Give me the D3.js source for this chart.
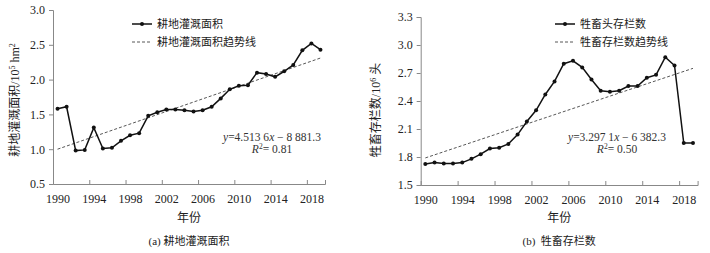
<!DOCTYPE html>
<html><head><meta charset="utf-8">
<script src="https://cdn.jsdelivr.net/npm/d3@7"></script>
<style>
body{margin:0;background:#fff;}
</style></head>
<body><svg id="c" width="710" height="253"></svg>
<script>
const years = d3.range(1990, 2020);
const irrigArea = [1.58,1.61,0.98,0.99,1.31,1.01,1.02,1.12,1.20,1.23,1.48,1.53,1.57,1.57,1.56,1.54,1.56,1.61,1.73,1.86,1.91,1.92,2.10,2.08,2.04,2.12,2.21,2.42,2.52,2.43];
const livestock = [1.725,1.74,1.73,1.73,1.74,1.78,1.83,1.89,1.90,1.94,2.04,2.18,2.30,2.47,2.61,2.80,2.83,2.76,2.63,2.51,2.50,2.51,2.56,2.56,2.65,2.68,2.87,2.78,1.95,1.95];
const irrigTrend = [1.00, 2.31];   // trend line values at 1990 and 2019
const stockTrend = [1.79, 2.75];
const xTickLabels = [1990,1994,1998,2002,2006,2010,2014,2018];
const yTicksA = [0.5,1.0,1.5,2.0,2.5,3.0];
const yTicksB = [1.5,1.8,2.1,2.4,2.7,3.0,3.3];

const FONT = "'Liberation Serif','Times New Roman','Noto Sans CJK SC',serif";
const svg = d3.select("#c");

function panel(o){
  const g = svg.append("g");
  const x = d3.scaleLinear().domain([1989.5, 2019.5]).range([o.x0, o.x1]);
  const y = d3.scaleLinear().domain(o.ydom).range([o.y1, o.y0]);
  const ya = g.append("g").attr("transform",`translate(${o.x0},0)`)
    .call(d3.axisLeft(y).tickValues(o.yticks).tickFormat(d3.format(".1f")).tickSize(4).tickPadding(4));
  ya.select(".domain").attr("stroke","#888");
  ya.selectAll(".tick line").attr("stroke","#888");
  ya.selectAll("text").attr("font-size",12).attr("fill","#222");
  const xb = g.append("g").attr("transform",`translate(0,${o.y1})`)
    .call(d3.axisBottom(x).tickValues(d3.range(1993.5, 2020, 4)).tickSize(-4).tickFormat(""));
  xb.select(".domain").attr("stroke","#888");
  xb.selectAll(".tick line").attr("stroke","#888");
  const xl = g.append("g").attr("transform",`translate(0,${o.y1})`)
    .call(d3.axisBottom(x).tickValues(xTickLabels).tickSize(0).tickPadding(10).tickFormat(d3.format("d")));
  xl.select(".domain").remove();
  xl.selectAll("text").attr("font-size",12).attr("fill","#222");
  g.append("line").attr("x1",x(1990)).attr("x2",x(2019))
    .attr("y1",y(o.trend[0])).attr("y2",y(o.trend[1]))
    .attr("stroke","#444").attr("stroke-width",0.9).attr("stroke-dasharray","3,2");
  const line = d3.line().x((d,i)=>x(years[i])).y(d=>y(d));
  g.append("path").datum(o.data).attr("d",line).attr("fill","none").attr("stroke","#111").attr("stroke-width",1.5);
  g.selectAll("circle.p").data(o.data).enter().append("circle")
    .attr("cx",(d,i)=>x(years[i])).attr("cy",d=>y(d)).attr("r",2).attr("fill","#111");
  const lx = o.legX, ly = o.legY;
  g.append("line").attr("x1",lx).attr("x2",lx+20).attr("y1",ly).attr("y2",ly).attr("stroke","#111").attr("stroke-width",1.5);
  g.append("circle").attr("cx",lx+10).attr("cy",ly).attr("r",2).attr("fill","#111");
  g.append("text").attr("x",lx+25).attr("y",ly+4).attr("font-size",11).text(o.leg1);
  g.append("line").attr("x1",lx).attr("x2",lx+20).attr("y1",ly+18).attr("y2",ly+18)
    .attr("stroke","#444").attr("stroke-width",0.9).attr("stroke-dasharray","3,2");
  g.append("text").attr("x",lx+25).attr("y",ly+22).attr("font-size",11).text(o.leg2);
  const eq = g.append("text").attr("x",o.eqX).attr("y",141).attr("text-anchor","middle").attr("font-size",11.5).attr("fill","#333");
  eq.append("tspan").attr("font-style","italic").text("y");
  eq.append("tspan").text("=" + o.eq1);
  eq.append("tspan").attr("font-style","italic").text("x");
  eq.append("tspan").text(" − " + o.eq2);
  const r2 = g.append("text").attr("x",o.eqX).attr("y",153).attr("text-anchor","middle").attr("font-size",11.5).attr("fill","#333");
  r2.append("tspan").attr("font-style","italic").text("R");
  r2.append("tspan").attr("font-size",7.5).attr("dy",-4).text("2");
  r2.append("tspan").attr("dy",4).text("= " + o.r2);
  const cx = (o.x0+o.x1)/2;
  g.append("text").attr("x",cx).attr("y",222).attr("text-anchor","middle").attr("font-size",12).text("年份");
  g.append("text").attr("x",cx).attr("y",245).attr("text-anchor","middle").attr("font-size",11).attr("xml:space","preserve").text(o.caption);
  const yt = g.append("text").attr("transform",`translate(${o.ytX},${o.ytY}) rotate(-90)`).attr("text-anchor","middle").attr("font-size",12);
  yt.append("tspan").text(o.ytitle);
  yt.append("tspan").text(o.yunit);
  yt.append("tspan").attr("font-size",8).attr("dy",-4).text(o.ysup);
  yt.append("tspan").attr("dy",4).text(o.yunit2);
  if (o.ysup2){ yt.append("tspan").attr("font-size",8).attr("dy",-4).text(o.ysup2); }
}

panel({x0:53,x1:325,y0:10,y1:184,ydom:[0.5,3.0],yticks:yTicksA,data:irrigArea,trend:irrigTrend,
  legX:132,legY:24,leg1:"耕地灌溉面积",leg2:"耕地灌溉面积趋势线",eqX:272,eq1:"4.513 6",eq2:"8 881.3",r2:"0.81",
  caption:"(a) 耕地灌溉面积",ytX:19,ytY:100,ytitle:"耕地灌溉面积",yunit:"/10",ysup:"5",yunit2:" hm",ysup2:"2"});
panel({x0:420.7,x1:697.6,y0:17,y1:185,ydom:[1.5,3.3],yticks:yTicksB,data:livestock,trend:stockTrend,
  legX:555,legY:24,leg1:"牲畜头存栏数",leg2:"牲畜存栏数趋势线",eqX:617,eq1:"3.297 1",eq2:"6 382.3",r2:"0.50",
  caption:"(b)  牲畜存栏数",ytX:380,ytY:110,ytitle:"牲畜存栏数",yunit:"/10",ysup:"6",yunit2:" 头",ysup2:""});

svg.selectAll("g").attr("font-family", null);
svg.selectAll("text").attr("font-family", FONT).each(function(){ if(!this.getAttribute("fill")) this.setAttribute("fill","#222"); });
</script></body></html>
